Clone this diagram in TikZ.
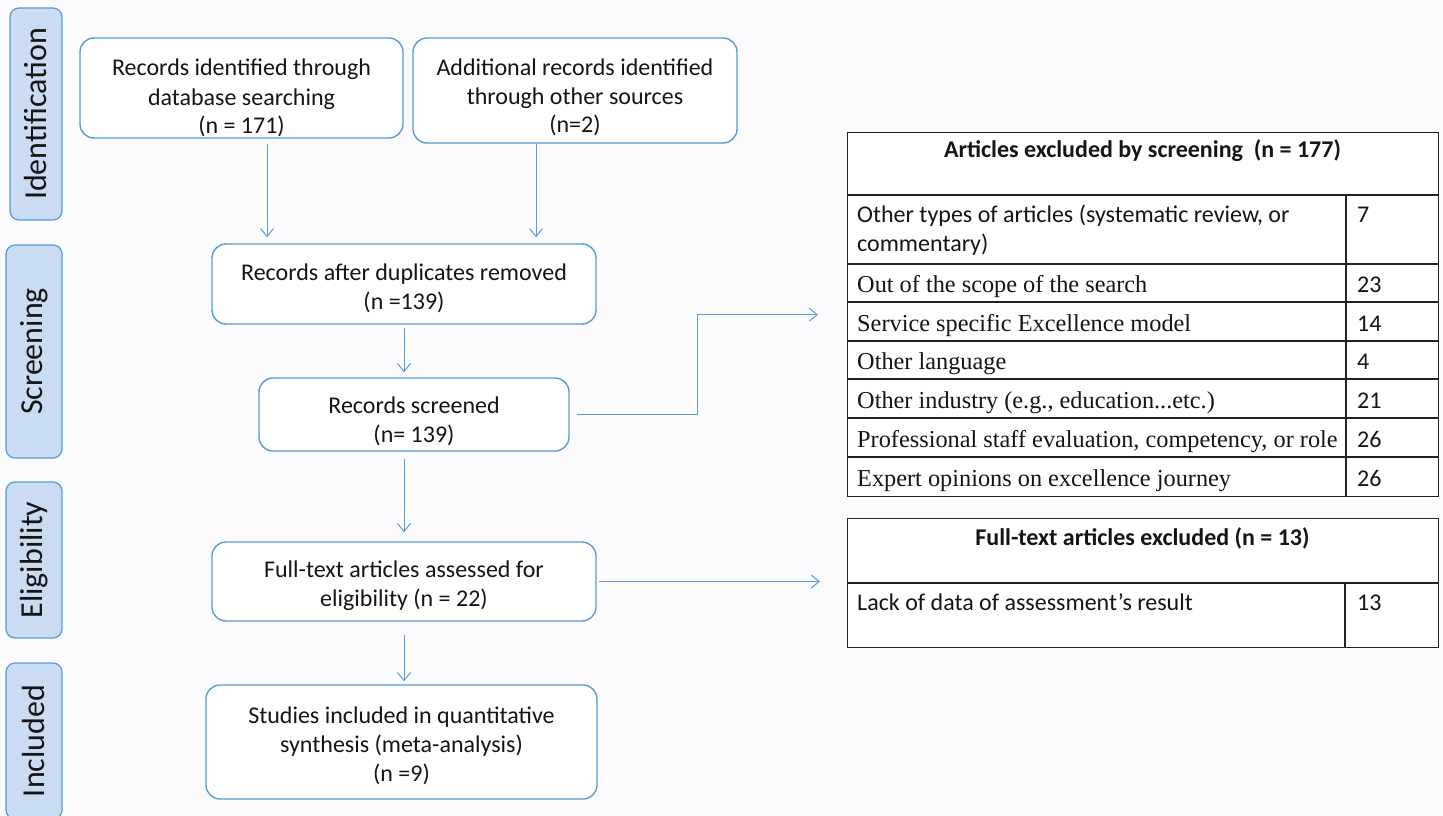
\documentclass[tikz,border=0pt]{standalone}
\usepackage{fontspec}
\setmainfont{Carlito}
\newfontfamily\timesf{Liberation Serif}
\usetikzlibrary{arrows.meta}
\definecolor{bblue}{HTML}{5B9BD5}
\definecolor{lblue}{HTML}{C9DCF2}
\definecolor{bgc}{HTML}{FBFBFD}
\definecolor{tline}{HTML}{222222}
\definecolor{ink}{HTML}{151515}
\newcommand{\ptxt}[2]{\parbox[t]{#1}{\centering #2}}
\begin{document}
\begin{tikzpicture}[x=1pt,y=-1pt,
  flowbox/.style={draw=bblue, line width=1.4pt, rounded corners=14pt, fill=white, inner sep=0pt},
  stagebox/.style={draw=bblue, line width=1.2pt, rounded corners=9pt, fill=lblue, inner sep=0pt,
     rotate=90, text=ink, font=\fontsize{32}{36}\selectfont},
  flowtxt/.style={anchor=base, inner sep=0pt, text=ink, font=\fontsize{24}{29}\selectfont},
  arr/.style={draw=bblue, line width=1pt, -{Straight Barb[length=8pt,width=13pt,line width=1pt]}},
  tbox/.style={draw=tline, line width=1.4pt, inner sep=0pt, anchor=north west, fill=white},
  tgrid/.style={draw=tline, line width=1.4pt},
  thead/.style={anchor=base, inner sep=0pt, text=ink, font=\fontsize{24}{28}\selectfont\bfseries},
  tcell/.style={anchor=base west, inner sep=0pt, text=ink, font=\fontsize{24}{29}\selectfont},
  tcellr/.style={anchor=base west, inner sep=0pt, text=ink, font=\fontsize{24.3}{29}\timesf}
]
\useasboundingbox (0,0) rectangle (1443,816);
\clip (0,0) rectangle (1443,816);
\fill[bgc] (0,0) rectangle (1443,816);

% stage labels
\node[stagebox, minimum width=212, minimum height=52] (s1) at (36,114) {Identification};
\node[stagebox, minimum width=213, minimum height=56] (s2) at (34,351.5) {Screening};
\node[stagebox, minimum width=156, minimum height=56] (s3) at (34,560) {Eligibility};
\node[stagebox, minimum width=156, minimum height=56] (s4) at (34,741) {Included};

% flow boxes
\node[flowbox, minimum width=323, minimum height=100] (b1) at (241.5,88) {};
\node[flowbox, minimum width=324, minimum height=105] (b2) at (575,90.5) {};
\node[flowbox, minimum width=384, minimum height=80] (b3) at (404,284) {};
\node[flowbox, minimum width=310, minimum height=73] (b4) at (414,414.5) {};
\node[flowbox, minimum width=384, minimum height=79] (b5) at (404,581.5) {};
\node[flowbox, minimum width=391, minimum height=114] (b6) at (401.5,742) {};

\node[flowtxt] (b1t) at (241.5,76) {\ptxt{310pt}{Records identified through\\database searching\\(n = 171)}};
\node[flowtxt] (b2t) at (575,75) {\ptxt{310pt}{Additional records identified\\through other sources\\(n=2)}};
\node[flowtxt] (b3t) at (404,280) {\ptxt{370pt}{Records after duplicates removed\\(n =139)}};
\node[flowtxt] (b4t) at (414,413) {\ptxt{300pt}{Records screened\\(n= 139)}};
\node[flowtxt] (b5t) at (404,577) {\ptxt{370pt}{Full-text articles assessed for\\eligibility (n = 22)}};
\node[flowtxt] (b6t) at (401.5,723) {\ptxt{370pt}{Studies included in quantitative\\synthesis (meta-analysis)\\(n =9)}};

% table 1
\node[tbox, minimum width=591, minimum height=364] (t1) at (847,132) {};
\draw[tgrid] (847,195) -- (1438,195);
\foreach \yy in {264,302,341,379,418,457} \draw[tgrid] (847,\yy) -- (1438,\yy);
\draw[tgrid] (1346,195) -- (1346,496);
\node[thead] (t1h) at (1142.5,157) {Articles excluded by screening~~(n = 177)};
\node[tcell, align=left] (r1) at (857,222) {\parbox[t]{460pt}{Other types of articles (systematic review, or\\commentary)}};
\node[tcell] (v1) at (1357,222) {7};
\node[tcellr] (r2) at (857,292) {Out of the scope of the search};
\node[tcell] (v2) at (1357,292) {23};
\node[tcellr] (r3) at (857,331) {Service specific Excellence model};
\node[tcell] (v3) at (1357,331) {14};
\node[tcellr] (r4) at (857,369) {Other language};
\node[tcell] (v4) at (1357,369) {4};
\node[tcellr] (r5) at (857,408) {Other industry (e.g., education...etc.)};
\node[tcell] (v5) at (1357,408) {21};
\node[tcellr] (r6) at (857,447) {Professional staff evaluation, competency, or role};
\node[tcell] (v6) at (1357,447) {26};
\node[tcellr] (r7) at (857,486) {Expert opinions on excellence journey};
\node[tcell] (v7) at (1357,486) {26};

% table 2
\node[tbox, minimum width=591, minimum height=129] (t2) at (847,518) {};
\draw[tgrid] (847,583) -- (1438,583);
\draw[tgrid] (1345,583) -- (1345,647);
\node[thead] (t2h) at (1142.5,545) {Full-text articles excluded (n = 13)};
\node[tcell] (q1) at (857,610) {Lack of data of assessment’s result};
\node[tcell] (w1) at (1357,610) {13};

% connectors
\draw[arr, shorten <=5pt, shorten >=6pt] ([xshift=25.5pt]b1.south) -- ([xshift=25.5pt]b1.south |- b3.north);
\draw[arr, shorten >=6pt] ([xshift=-39pt]b2.south) -- ([xshift=-39pt]b2.south |- b3.north);
\draw[arr, shorten <=3pt, shorten >=5pt] (b3.south) -- (b3.south |- b4.north);
\draw[arr, shorten <=7pt, shorten >=9pt] (b4.south -| b5.north) -- (b5.north);
\draw[arr, shorten <=13pt, shorten >=3pt] (b5.south) -- (b5.south |- b6.north);
\draw[arr, shorten <=7pt, shorten >=29pt] (b4.east) -- ++(128,0) |- (t1.west);
\draw[arr, shorten <=2pt, shorten >=27pt] (b5.east) -- (b5.east -| t2.west);
\end{tikzpicture}
\end{document}
